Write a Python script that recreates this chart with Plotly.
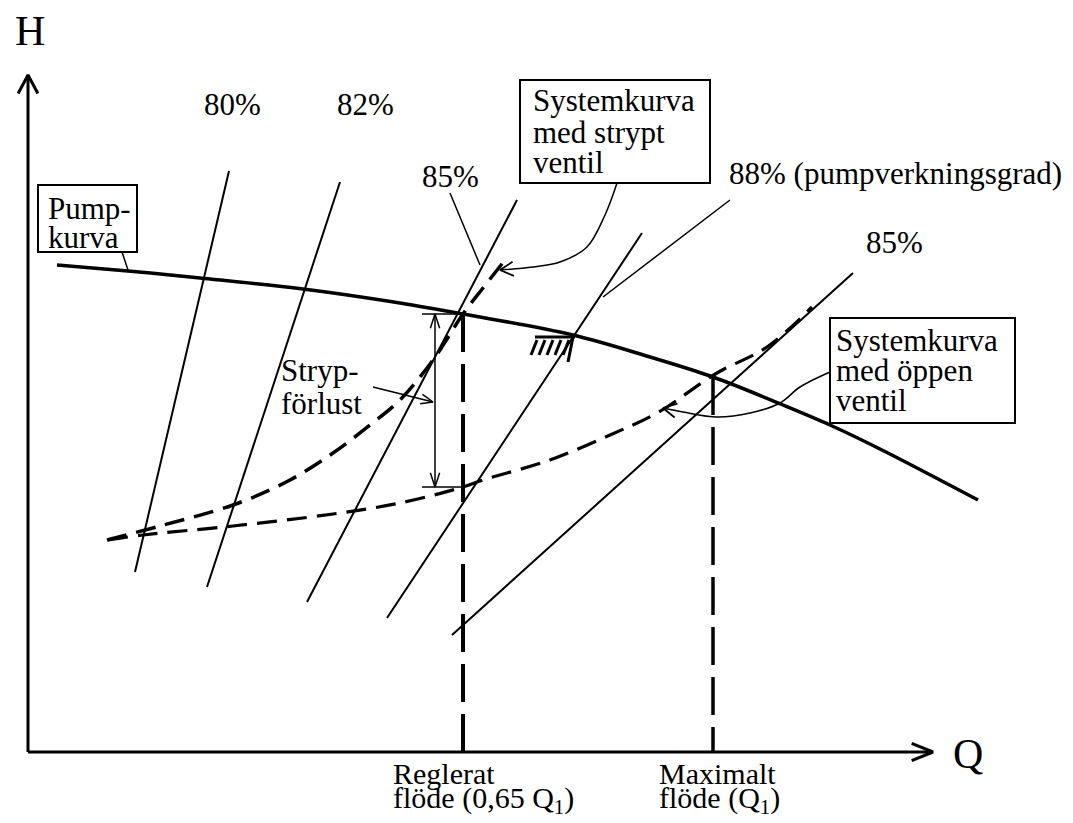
import math
import plotly.graph_objects as go

# ---------------- data (Q to the right of the axis corner, H upward) ----------------
pump_q = [29, 100, 172, 275, 372, 435, 545, 622, 685, 755, 802, 852, 950]
pump_h = [487, 481, 474, 463, 449, 438, 417, 395, 375, 347, 327, 303, 252]

eff_labels = ["80%", "82%", "85%", "88%", "85%"]
eff_q = [[201, 107], [312, 179], [489, 279], [614, 359], [825, 424]]
eff_h = [[581, 180], [570, 165], [552, 150], [519, 134], [479, 117]]

sys_throttled_q = [79, 132, 205, 262, 305, 342, 372, 405, 435, 455, 477]
sys_throttled_h = [212, 226, 247, 272, 299, 327, 352, 392, 438, 464, 492]

sys_open_q = [80, 115, 205, 305, 372, 435, 455, 522, 582, 629, 689, 739, 784]
sys_open_h = [212, 217, 226, 238, 249, 265, 272, 292, 317, 339, 379, 405, 445]

q_regulated = 435          # 0,65 Q1
h_regulated_pump = 438     # pump head at regulated flow
h_regulated_open = 265     # open-valve system head at regulated flow
q_max = 685                # Q1
h_max = 375

best_eff_q = [509, 517, 525, 533, 541]   # hatched best-efficiency mark
best_eff_h = 412

# leader lines (annotation pointers)
lead_throttled_q = [589, 577, 559, 532, 505, 472]
lead_throttled_h = [569, 537, 505, 490, 485, 482]
lead_open_q = [802, 772, 752, 722, 689, 655, 635]
lead_open_h = [380, 365, 349, 339, 335, 340, 344]

# ---------------- helpers ----------------
X0, Y0 = 28, 752  # pixel position of the axis corner
OFF = 8           # page body margin


def PX(x):
    return x - X0


def PY(y):
    return Y0 - y


def head(tip, frm, L=14, ang=24):
    dx, dy = tip[0] - frm[0], tip[1] - frm[1]
    n = math.hypot(dx, dy)
    ux, uy = dx / n, dy / n
    xs, ys = [], []
    for s in (1, -1):
        a = math.radians(ang) * s
        rx = ux * math.cos(a) - uy * math.sin(a)
        ry = ux * math.sin(a) + uy * math.cos(a)
        xs.append(tip[0] - L * rx)
        ys.append(tip[1] - L * ry)
    return [xs[0], tip[0], xs[1], None], [ys[0], tip[1], ys[1], None]


fig = go.Figure()
BLACK = "black"


def line(xs, ys, width=2, dash="solid", shape="linear"):
    fig.add_trace(go.Scatter(x=xs, y=ys, mode="lines", hoverinfo="skip",
                             line=dict(color=BLACK, width=width, dash=dash, shape=shape)))


# axes with arrows
line([0, 0], [0, PY(75)], width=3)
line([0, PX(933)], [0, 0], width=3)
hx, hy = head((0, PY(75)), (0, 0), L=21, ang=28)
line(hx, hy, width=3)
hx, hy = head((PX(933), 0), (0, 0), L=23, ang=22)
line(hx, hy, width=3)

# efficiency lines
for q, h in zip(eff_q, eff_h):
    line(q, h, width=2)

# pump curve
line(pump_q, pump_h, width=3.5, shape="spline")

# system curves
line(sys_throttled_q, sys_throttled_h, width=3.5, dash="20px,10px", shape="spline")
line(sys_open_q, sys_open_h, width=3.2, dash="20px,10px", shape="spline")

# vertical dashed lines at regulated and max flow
line([q_regulated, q_regulated], [h_regulated_pump, 0], width=4, dash="38px,12px")
line([q_max, q_max], [h_max, 0], width=3.5, dash="38px,12px")

# throttling loss double arrow
qa = PX(435)
line([qa, qa], [h_regulated_pump, h_regulated_open], width=1.5)
line([PX(422), q_regulated], [h_regulated_pump, h_regulated_pump], width=1.5)
line([PX(422), q_regulated], [h_regulated_open, h_regulated_open], width=1.5)
hx, hy = head((qa, h_regulated_pump), (qa, h_regulated_open), L=15, ang=18)
line(hx, hy, width=1.5)
hx, hy = head((qa, h_regulated_open), (qa, h_regulated_pump), L=15, ang=18)
line(hx, hy, width=1.5)
# pointer from "Stryp-förlust"
sp_q, sp_h = [PX(373), PX(433)], [PY(387), PY(402)]
line(sp_q, sp_h, width=1.5)
hx, hy = head((sp_q[1], sp_h[1]), (sp_q[0], sp_h[0]), L=13, ang=22)
line(hx, hy, width=1.5)

# hatched best-efficiency mark
hq, hh = [], []
for q in best_eff_q:
    hq += [q, q - 6, None]
    hh += [best_eff_h, best_eff_h - 15, None]
hq += [PX(535), PX(575), None, PX(573), PX(568)]
hh += [PY(337), PY(337), None, PY(337), PY(362)]
line(hq, hh, width=3)

# label pointers
line([PX(450), PX(480)], [PY(193), PY(265)], width=1.5)   # 85%
line([PX(730), PX(603)], [PY(200), PY(297)], width=1.5)   # 88%
line([PX(122), PX(128)], [PY(252), PY(270)], width=1.5)   # pump curve

# curved leaders to system curves
line(lead_throttled_q, lead_throttled_h, width=1.5, shape="spline")
hx, hy = head((lead_throttled_q[-1], lead_throttled_h[-1]),
              (lead_throttled_q[-2], lead_throttled_h[-2]), L=15, ang=28)
line(hx, hy, width=1.8)
line(lead_open_q, lead_open_h, width=1.5, shape="spline")
hx, hy = head((lead_open_q[-1], lead_open_h[-1]),
              (lead_open_q[-2], lead_open_h[-2]), L=15, ang=28)
line(hx, hy, width=1.8)

# boxes
shapes = []
for (x1, y1, x2, y2) in [(520, 80, 710, 183), (830, 318, 1015, 423), (38, 185, 137, 252)]:
    shapes.append(dict(type="rect", xref="x", yref="y", x0=PX(x1), x1=PX(x2),
                       y0=PY(y1), y1=PY(y2), line=dict(color=BLACK, width=2),
                       fillcolor="white", layer="below"))

# texts
FONT = "Liberation Serif, Times New Roman, serif"
ann = []


def txt(x, y, s, size=31, xa="left"):
    ann.append(dict(x=PX(x), y=PY(y), xref="x", yref="y", text=s, showarrow=False,
                    xanchor=xa, yanchor="middle",
                    font=dict(family=FONT, size=size, color=BLACK)))


txt(30, 31, "H", size=42, xa="center")
txt(968, 754, "Q", size=42, xa="center")
txt(232, 104, eff_labels[0], xa="center")
txt(365, 104, eff_labels[1], xa="center")
txt(450, 176, eff_labels[2], xa="center")
txt(727, 173, eff_labels[3] + " (pumpverkningsgrad)")
txt(894, 242, eff_labels[4], xa="center")

txt(531, 100, "Systemkurva")
txt(531, 132, "med strypt")
txt(531, 162, "ventil")

txt(834, 340, "Systemkurva")
txt(834, 370, "med öppen")
txt(834, 400, "ventil")

txt(46, 208, "Pump-")
txt(46, 237, "kurva")

txt(279, 370, "Stryp-")
txt(279, 403, "förlust")

txt(391, 773, "Reglerat", size=30)
txt(391, 800, "flöde (0,65 Q<sub>1</sub>)", size=30)
txt(657, 773, "Maximalt", size=30)
txt(657, 800, "flöde (Q<sub>1</sub>)", size=30)

# the page body has an 8px margin: draw 1 unit = 1 px, shifted to compensate
fig.update_layout(
    width=1073 - OFF, height=823 - OFF,
    margin=dict(l=0, r=0, t=0, b=0),
    paper_bgcolor="white", plot_bgcolor="white",
    showlegend=False,
    xaxis=dict(range=[PX(OFF), PX(1073)], visible=False, fixedrange=True),
    yaxis=dict(range=[PY(823), PY(OFF)], visible=False, fixedrange=True),
    shapes=shapes,
    annotations=ann,
)

fig.write_html("out.html")
